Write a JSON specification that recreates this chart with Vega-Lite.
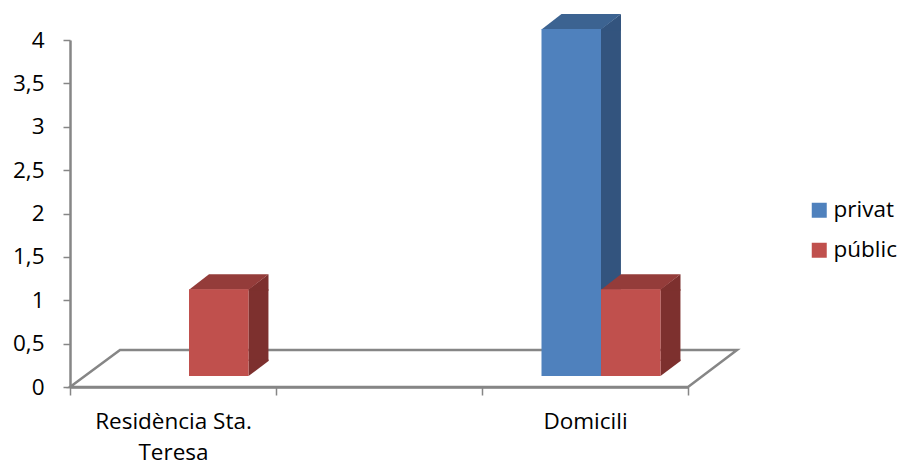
{
  "$schema": "https://vega.github.io/schema/vega-lite/v6.json",
  "width": 618,
  "height": 347,
  "autosize": {"type": "none"},
  "padding": {"left": 70, "top": 40, "right": 213, "bottom": 79},
  "background": "white",
  "config": {"view": {"stroke": null}, "font": "Open Sans"},
  "data": {
    "values": [
      {"cat": "Residència Sta. Teresa", "serie": "públic", "value": 1},
      {"cat": "Domicili", "serie": "privat", "value": 4},
      {"cat": "Domicili", "serie": "públic", "value": 1}
    ]
  },
  "encoding": {
    "x": {
      "field": "cat",
      "type": "nominal",
      "title": null,
      "scale": {"type": "band", "domain": ["Residència Sta. Teresa", " ", "Domicili"], "paddingInner": 0, "paddingOuter": 0},
      "axis": {
        "title": null,
        "labelAngle": 0,
        "labelFont": "Open Sans",
        "labelFontSize": 22.5,
        "labelColor": "#000000",
        "labelPadding": 15,
        "labelLineHeight": 31,
        "labelLimit": 400,
        "labelExpr": "datum.label == 'Residència Sta. Teresa' ? ['Residència Sta.', 'Teresa'] : datum.label",
        "domainColor": "#868686",
        "domainWidth": 2.5,
        "tickColor": "#868686",
        "tickWidth": 1.5,
        "tickSize": 8,
        "tickBand": "extent",
        "grid": false
      }
    },
    "y": {
      "field": "value",
      "type": "quantitative",
      "title": null,
      "scale": {"domain": [0, 4], "nice": false},
      "axis": {
        "title": null,
        "values": [0, 0.5, 1, 1.5, 2, 2.5, 3, 3.5, 4],
        "labelExpr": "replace(format(datum.value, '~g'), '.', ',')",
        "labelFont": "Open Sans",
        "labelFontSize": 22.5,
        "labelColor": "#000000",
        "labelPadding": 19,
        "tickSize": 7,
        "tickColor": "#868686",
        "tickWidth": 1.5,
        "domainColor": "#868686",
        "domainWidth": 2.5,
        "grid": false
      }
    }
  },
  "layer": [
    {
      "transform": [{"filter": "datum.serie == 'privat'"}],
      "mark": {"type": "point", "shape": "M-515,0 L-465,-37 L152,-37 L103,0 Z", "size": 4, "filled": true, "fill": "#ffffff", "opacity": 1, "stroke": "#868686", "strokeWidth": 2.5},
      "encoding": {
        "y": {"datum": 0, "type": "quantitative"}
      }
    },
    {
      "mark": {"type": "rule", "strokeWidth": 20, "strokeCap": "butt", "yOffset": -11, "y2Offset": -26},
      "encoding": {
        "xOffset": {"field": "serie", "type": "nominal", "scale": {"type": "band", "domain": ["privat", "públic"], "paddingInner": 0.41, "paddingOuter": 0.936, "align": 1}},
        "y2": {"datum": 0},
        "color": {"field": "serie", "type": "nominal", "scale": {"domain": ["privat", "públic"], "range": ["#33547e", "#7d302e"]}, "legend": null}
      }
    },
    {
      "mark": {"type": "point", "shape": "M29.75,0 L49.75,-15 L49.75,1.5 L29.75,1.5 Z", "size": 4, "filled": true, "opacity": 1, "yOffset": -11},
      "encoding": {
        "xOffset": {"field": "serie", "type": "nominal", "scale": {"type": "band", "domain": ["privat", "públic"], "paddingInner": 0, "paddingOuter": 0.731, "align": 0.684}},
        "color": {"field": "serie", "type": "nominal", "scale": {"domain": ["privat", "públic"], "range": ["#33547e", "#7d302e"]}, "legend": null}
      }
    },
    {
      "mark": {"type": "point", "shape": "M29.75,-16.5 L49.75,-16.5 L49.75,-15 L29.75,0 Z", "size": 4, "filled": true, "opacity": 1, "yOffset": -11},
      "encoding": {
        "xOffset": {"field": "serie", "type": "nominal", "scale": {"type": "band", "domain": ["privat", "públic"], "paddingInner": 0, "paddingOuter": 0.731, "align": 0.684}},
        "y": {"datum": 0, "type": "quantitative"},
        "color": {"field": "serie", "type": "nominal", "scale": {"domain": ["privat", "públic"], "range": ["#33547e", "#7d302e"]}, "legend": null}
      }
    },
    {
      "mark": {"type": "point", "shape": "M-29.75,0.5 L29.75,0.5 L49.75,-15 L-9.75,-15 Z", "size": 4, "filled": true, "opacity": 1, "yOffset": -11},
      "encoding": {
        "xOffset": {"field": "serie", "type": "nominal", "scale": {"type": "band", "domain": ["privat", "públic"], "paddingInner": 0, "paddingOuter": 0.731, "align": 0.684}},
        "color": {"field": "serie", "type": "nominal", "scale": {"domain": ["privat", "públic"], "range": ["#3c6391", "#943c3a"]}, "legend": null}
      }
    },
    {
      "mark": {"type": "bar", "yOffset": -11, "y2Offset": -11},
      "encoding": {
        "xOffset": {"field": "serie", "type": "nominal", "scale": {"type": "band", "domain": ["privat", "públic"], "paddingInner": 0, "paddingOuter": 0.731, "align": 0.684}},
        "color": {
          "field": "serie",
          "type": "nominal",
          "scale": {"domain": ["privat", "públic"], "range": ["#4f81bd", "#c0504d"]},
          "legend": {
            "title": null,
            "orient": "none",
            "legendX": 738,
            "legendY": 159,
            "direction": "vertical",
            "symbolType": "square",
            "symbolSize": 225,
            "symbolStrokeWidth": 0,
            "labelFont": "Open Sans",
            "labelFontSize": 22.5,
            "labelColor": "#000000",
            "labelOffset": 3,
            "rowPadding": 17,
            "padding": 0,
            "labelLimit": 0
          }
        }
      }
    }
  ],
  "resolve": {"scale": {"color": "independent", "xOffset": "independent"}}
}
